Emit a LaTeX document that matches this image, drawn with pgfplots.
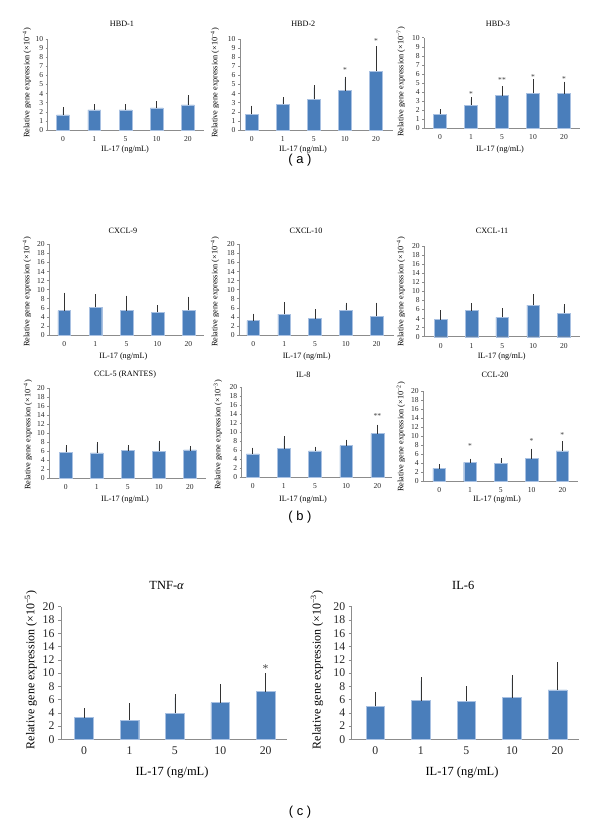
\documentclass[border=0pt]{standalone}
\usepackage{fontspec}
\setmainfont{Liberation Serif}
\newfontfamily\sanslab{Liberation Sans}
\usepackage{pgfplots}
\pgfplotsset{compat=1.18}
\definecolor{barblue}{HTML}{4A7EBB}
\definecolor{barline}{HTML}{A9C1E2}
\definecolor{axgray}{HTML}{8C8C8C}
\definecolor{errgray}{HTML}{333333}
\newcommand{\sfs}{\fontsize{7.6}{8}\selectfont}
\newcommand{\bfs}{\fontsize{11.8}{12}\selectfont}
\pgfplotsset{
  gpanel/.style={
    scale only axis, anchor=south west,
    axis x line=bottom, axis y line=left,
    axis line style={-, draw=axgray, line width=0.6pt},
    ymin=0, xtick={0,1,2,3,4}, xticklabels={0,1,5,10,20},
    x tick style={draw=none},
    y tick style={draw=axgray, line width=0.5pt},
    tick align=outside,
    clip=false,
    /pgf/number format/assume math mode=true,
  },
  small/.style={gpanel, major tick length=2bp,
    ticklabel style={font=\sfs, text=black!85},
    xticklabel style={yshift=-1bp}, yticklabel style={xshift=1bp}},
  big/.style={gpanel, major tick length=3bp,
    ticklabel style={font=\bfs, text=black!85},
    xticklabel style={yshift=-1bp}},
  ra/.style={ymax=10, ytick={0,1,...,10}},
  rb/.style={ymax=20, ytick={0,2,...,20}},
  sbar/.style={ybar, bar width=0.41, fill=barblue, draw=barline, line width=0.4pt,
    error bars/.cd, y dir=plus, y explicit,
    error bar style={line width=0.5pt, draw=errgray},
    error mark options={line width=0.5pt, mark size=2.3bp, draw=errgray}},
  bbar/.style={ybar, bar width=0.41, fill=barblue, draw=barline, line width=0.5pt,
    error bars/.cd, y dir=plus, y explicit,
    error bar style={line width=0.7pt, draw=errgray},
    error mark options={line width=0.7pt, mark size=3.2bp, draw=errgray}},
}
\tikzset{
  st/.style={font=\sfs, text=black!75, inner sep=0pt, anchor=center, yshift=1.2bp},
  bst/.style={font=\bfs, text=black!75, inner sep=0pt, anchor=center},
  ttl/.style={font=\fontsize{8.2}{9}\selectfont, anchor=center, inner sep=0pt},
  yl/.style={font=\fontsize{8.3}{9}\selectfont, rotate=90, anchor=center, inner sep=0pt},
  btl/.style={font=\fontsize{12.5}{13}\selectfont, anchor=center, inner sep=0pt},
  byl/.style={font=\fontsize{12}{13}\selectfont, rotate=90, anchor=center, inner sep=0pt},
  pl/.style={font=\sanslab\fontsize{13}{14}\selectfont, anchor=center, inner sep=0pt},
}
\newcommand{\yls}[1]{Relative gene expression (×10\textsuperscript{−#1})}
\begin{document}
\begin{tikzpicture}
\path[use as bounding box] (0,0) rectangle (600bp,-829bp);

% ---------------- (a) ----------------
\begin{axis}[small, ra, at={(47.7bp,-130bp)}, width=155.8bp, height=91bp, xmin=-0.49, xmax=4.5]
\addplot[sbar] coordinates {(0,1.65) +- (0,0.62) (1,2.2) +- (0,0.36) (2,2.2) +- (0,0.36) (3,2.42) +- (0,0.51) (4,2.75) +- (0,0.84)};
\end{axis}
\begin{axis}[small, ra, at={(240bp,-130bp)}, width=153.3bp, height=91bp, xmin=-0.377, xmax=4.557]
\addplot[sbar] coordinates {(0,1.72) +- (0,0.70) (1,2.82) +- (0,0.55) (2,3.37) +- (0,1.28) (3,4.32) +- (0,1.28) (4,6.48) +- (0,2.49)};
\node[st] at (axis cs:3,6.41) {*};
\node[st] at (axis cs:4,9.6) {*};
\end{axis}
\begin{axis}[small, ra, at={(424.3bp,-128.3bp)}, width=155.7bp, height=90.6bp, xmin=-0.506, xmax=4.516]
\addplot[sbar] coordinates {(0,1.54) +- (0,0.30) (1,2.57) +- (0,0.63) (2,3.60) +- (0,0.81) (3,3.86) +- (0,1.29) (4,3.82) +- (0,1.07)};
\node[st] at (axis cs:1,3.68) {*};
\node[st] at (axis cs:2,5.15) {**};
\node[st] at (axis cs:3,5.5) {*};
\node[st] at (axis cs:4,5.33) {*};
\end{axis}
\node[ttl] at (122bp,-23.5bp) {HBD-1};
\node[ttl] at (303.3bp,-23.5bp) {HBD-2};
\node[ttl] at (498bp,-24bp) {HBD-3};
\node[ttl] at (125bp,-150bp) {IL-17 (ng/mL)};
\node[ttl] at (303bp,-150bp) {IL-17 (ng/mL)};
\node[ttl] at (500bp,-150bp) {IL-17 (ng/mL)};
\node[yl] at (27bp,-83bp) {\yls{4}};
\node[yl] at (215bp,-83bp) {\yls{4}};
\node[yl] at (401bp,-82bp) {\yls{7}};
\node[pl] at (300bp,-160bp) {( a )};

% ---------------- (b) row 1 ----------------
\begin{axis}[small, rb, at={(49.3bp,-335bp)}, width=154.7bp, height=90.7bp, xmin=-0.484, xmax=4.5]
\addplot[sbar] coordinates {(0,5.37) +- (0,3.45) (1,6.1) +- (0,2.36) (2,5.37) +- (0,2.79) (3,5.07) +- (0,0.96) (4,5.44) +- (0,2.5)};
\end{axis}
\begin{axis}[small, rb, at={(239.3bp,-335bp)}, width=155bp, height=90.7bp, xmin=-0.454, xmax=4.57]
\addplot[sbar] coordinates {(0,3.16) +- (0,1.03) (1,4.63) +- (0,2.13) (2,3.6) +- (0,1.62) (3,5.44) +- (0,1.18) (4,4.19) +- (0,2.43)};
\end{axis}
\begin{axis}[small, rb, at={(424.3bp,-336.7bp)}, width=155.7bp, height=90.7bp, xmin=-0.53, xmax=4.52]
\addplot[sbar] coordinates {(0,3.75) +- (0,1.62) (1,5.74) +- (0,1.16) (2,4.26) +- (0,1.54) (3,6.99) +- (0,1.83) (4,5.22) +- (0,1.4)};
\end{axis}
\node[ttl] at (123bp,-231bp) {CXCL-9};
\node[ttl] at (306bp,-231bp) {CXCL-10};
\node[ttl] at (492bp,-231bp) {CXCL-11};
\node[ttl] at (123.3bp,-357bp) {IL-17 (ng/mL)};
\node[ttl] at (306.7bp,-357bp) {IL-17 (ng/mL)};
\node[ttl] at (501.7bp,-357bp) {IL-17 (ng/mL)};
\node[yl] at (27bp,-292bp) {\yls{4}};
\node[yl] at (215bp,-292bp) {\yls{4}};
\node[yl] at (401bp,-292bp) {\yls{4}};

% ---------------- (b) row 2 ----------------
\begin{axis}[small, rb, at={(49.3bp,-478.3bp)}, width=156.2bp, height=90bp, xmin=-0.53, xmax=4.5]
\addplot[sbar] coordinates {(0,5.78) +- (0,1.03) (1,5.63) +- (0,1.93) (2,6.15) +- (0,0.74) (3,6.0) +- (0,1.85) (4,6.3) +- (0,0.37)};
\end{axis}
\begin{axis}[small, rb, at={(241.7bp,-477.3bp)}, width=150bp, height=90bp, xmin=-0.353, xmax=4.46]
\addplot[sbar] coordinates {(0,5.19) +- (0,0.88) (1,6.37) +- (0,2.22) (2,5.85) +- (0,0.45) (3,7.04) +- (0,0.81) (4,9.7) +- (0,1.49)};
\node[st] at (axis cs:4,13.26) {**};
\end{axis}
\begin{axis}[small, rb, at={(423.3bp,-481bp)}, width=154.4bp, height=90bp, xmin=-0.52, xmax=4.5]
\addplot[sbar] coordinates {(0,2.81) +- (0,0.45) (1,4.15) +- (0,0.29) (2,4.0) +- (0,0.59) (3,4.96) +- (0,1.71) (4,6.67) +- (0,1.7)};
\node[st] at (axis cs:1,7.41) {*};
\node[st] at (axis cs:3,8.52) {*};
\node[st] at (axis cs:4,10.0) {*};
\end{axis}
\node[ttl] at (125bp,-375bp) {CCL-5 (RANTES)};
\node[ttl] at (303.3bp,-375bp) {IL-8};
\node[ttl] at (495bp,-375bp) {CCL-20};
\node[ttl] at (125bp,-500bp) {IL-17 (ng/mL)};
\node[ttl] at (303bp,-500bp) {IL-17 (ng/mL)};
\node[ttl] at (497bp,-500bp) {IL-17 (ng/mL)};
\node[yl] at (28bp,-435bp) {\yls{4}};
\node[yl] at (218bp,-435bp) {\yls{3}};
\node[yl] at (401bp,-437bp) {\yls{2}};
\node[pl] at (300bp,-517bp) {( b )};

% ---------------- (c) ----------------
\begin{axis}[big, rb, at={(61bp,-739.3bp)}, width=226.3bp, height=132.6bp, xmin=-0.507, xmax=4.476]
\addplot[bbar] coordinates {(0,3.27) +- (0,0.90) (1,2.91) +- (0,2.06) (2,3.92) +- (0,2.36) (3,5.53) +- (0,2.26) (4,7.19) +- (0,2.26)};
\node[bst] at (axis cs:4,10.6) {*};
\end{axis}
\begin{axis}[big, rb, at={(351.7bp,-739.3bp)}, width=227.6bp, height=132.6bp, xmin=-0.52, xmax=4.48]
\addplot[bbar] coordinates {(0,4.97) +- (0,1.66) (1,5.83) +- (0,3.01) (2,5.73) +- (0,1.81) (3,6.28) +- (0,2.92) (4,7.44) +- (0,3.72)};
\end{axis}
\node[btl] at (166.7bp,-585.7bp) {TNF-\textit{α}};
\node[btl] at (463.3bp,-585.7bp) {IL-6};
\node[btl] at (172bp,-773bp) {IL-17 (ng/mL)};
\node[btl] at (462bp,-773bp) {IL-17 (ng/mL)};
\node[byl] at (31bp,-670bp) {\yls{5}};
\node[byl] at (317bp,-670bp) {\yls{3}};
\node[pl] at (300bp,-812bp) {( c )};
\end{tikzpicture}
\end{document}
